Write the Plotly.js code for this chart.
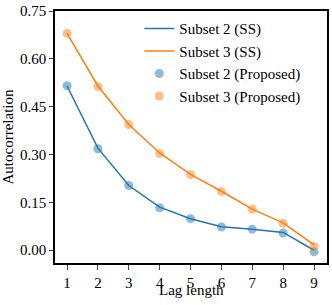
<!DOCTYPE html>
<html><head><meta charset="utf-8">
<script src="https://cdn.plot.ly/plotly-3.0.1.min.js"></script>
<style>body{margin:0;padding:0;background:#fff}#c{width:332px;height:305px}</style>
</head><body><div id="c"></div>
<script>
const lags = [1,2,3,4,5,6,7,8,9];
const subset2SS = [0.515,0.32,0.203,0.135,0.099,0.074,0.066,0.056,0.0];
const subset3SS = [0.68,0.515,0.394,0.305,0.238,0.185,0.129,0.086,0.017];
const subset2Proposed = [0.516,0.318,0.203,0.133,0.099,0.073,0.066,0.054,-0.005];
const subset3Proposed = [0.68,0.513,0.394,0.303,0.237,0.184,0.129,0.085,0.012];
const yTicks = [0.00,0.15,0.30,0.45,0.60,0.75];
const yTickText = ['0.00','0.15','0.30','0.45','0.60','0.75'];
const xTitle = 'Lag length';
const yTitle = 'Autocorrelation';

const fontFam = 'Liberation Serif';
const traces = [
  {x:lags,y:subset2SS,mode:'lines',name:'Subset 2 (SS)',line:{color:'#1f77b4',width:1.5}},
  {x:lags,y:subset3SS,mode:'lines',name:'Subset 3 (SS)',line:{color:'#ff7f0e',width:1.5}},
  {x:lags,y:subset2Proposed,mode:'markers',name:'Subset 2 (Proposed)',marker:{color:'rgba(31,119,180,0.5)',size:9}},
  {x:lags,y:subset3Proposed,mode:'markers',name:'Subset 3 (Proposed)',marker:{color:'rgba(255,127,14,0.5)',size:9}}
];
const layout = {
  width:332,height:305,
  margin:{l:55,r:5,t:11,b:42},
  paper_bgcolor:'#fff',plot_bgcolor:'#fff',
  font:{family:fontFam,size:15,color:'#000'},
  showlegend:true,
  legend:{x:0.31,y:0.995,xanchor:'left',yanchor:'top',bgcolor:'rgba(0,0,0,0)',font:{family:fontFam,size:15},tracegroupgap:0},
  xaxis:{range:[0.61,9.42],tickvals:lags,ticks:'outside',ticklen:5,tickwidth:1,showgrid:false,zeroline:false,
    showline:true,linecolor:'#000',linewidth:1.5,mirror:true,tickfont:{family:fontFam,size:15}},
  yaxis:{range:[-0.04,0.75],tickvals:yTicks,ticktext:yTickText,ticks:'outside',ticklen:4,tickwidth:1,showgrid:false,zeroline:false,
    showline:true,linecolor:'#000',linewidth:1.5,mirror:true,tickfont:{family:fontFam,size:15},
    title:{text:yTitle,standoff:4,font:{family:fontFam,size:15}}},
  annotations:[{text:xTitle,xref:'paper',yref:'paper',x:0.5,y:-0.108,xanchor:'center',yanchor:'middle',
    showarrow:false,font:{family:fontFam,size:15,color:'#000'}}]
};
Plotly.newPlot('c',traces,layout,{displayModeBar:false});
</script></body></html>
